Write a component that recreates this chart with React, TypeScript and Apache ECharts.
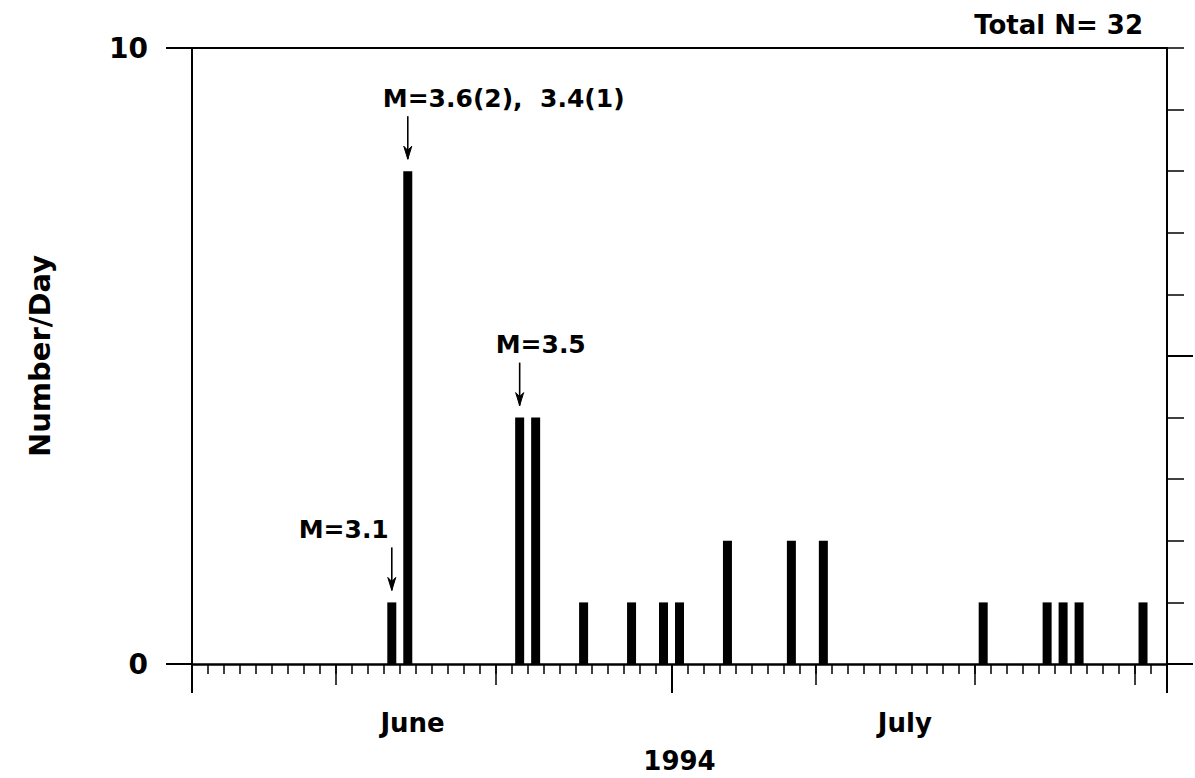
import React, { useEffect, useRef } from "react";
import * as echarts from "echarts";

// ---- data ----
const eventDates = ["06-13", "06-14", "06-21", "06-22", "06-25", "06-28", "06-30", "07-01", "07-04", "07-08", "07-10", "07-20", "07-24", "07-25", "07-26", "07-30"];
const eventCounts = [1, 8, 4, 4, 1, 1, 1, 1, 2, 2, 2, 1, 1, 1, 1, 1];

const annotationDates = ["06-14", "06-21", "06-13"];
const annotationTexts = ["M=3.6(2),  3.4(1)", "M=3.5", "M=3.1"];

const monthNames = ["June", "July"];
const monthLengths = [30, 31];
const yearLabel = "1994";
const yTickLabels = [0, 10];
const totalLabel = "Total N= 32";
const yTitle = "Number/Day";

// tick positions (day boundaries, 0 = start of June 1)
const tenDayTicks = [9, 19, 39, 49, 59];
const monthTicks = [0, 30, 61];
const monthLabelAt = [13.8, 44.6];

// ---- styling helpers ----
const annotationAlign = ["left", "left", "right"];
const annotationDx = [-25, -24, -3];

const FONT = "DejaVu Sans";
const totalDays = monthLengths.reduce((a, b) => a + b, 0);

function dayIndex(md: string): number {
  const [m, d] = md.split("-").map(Number);
  const monthIdx = m - 6;
  let off = 0;
  for (let i = 0; i < monthIdx; i++) off += monthLengths[i];
  return off + d - 1;
}

export default function App() {
  const ref = useRef<HTMLDivElement>(null);
  useEffect(() => {
    document.body.style.margin = "0";
    const chart = echarts.init(ref.current!, null, { renderer: "svg" });
    const barData = eventDates.map((d, i) => [dayIndex(d) + 0.5, eventCounts[i]]);
    const annData = annotationDates.map((d) => {
      const i = eventDates.indexOf(d);
      return [dayIndex(d) + 0.5, eventCounts[i]];
    });
    const baseX = {
      type: "value",
      min: 0,
      max: totalDays,
      interval: 1,
      splitLine: { show: false },
      gridIndex: 0,
    };
    const option: any = {
      animation: false,
      backgroundColor: "#fff",
      grid: { left: 192, right: 28, top: 48, bottom: 114, containLabel: false, outerBoundsMode: "none" },
      xAxis: [
        {
          ...baseX,
          position: "bottom",
          axisLine: { show: true, onZero: false, lineStyle: { color: "#000", width: 2.5 } },
          axisTick: { show: true, length: 10, lineStyle: { color: "#000", width: 1.5 } },
          axisLabel: { show: false },
        },
        {
          ...baseX,
          position: "bottom",
          axisLine: { show: false, onZero: false },
          axisTick: { show: true, length: 21, customValues: tenDayTicks, lineStyle: { color: "#000", width: 1.5 } },
          axisLabel: { show: false },
        },
        {
          ...baseX,
          position: "bottom",
          axisLine: { show: false, onZero: false },
          axisTick: { show: true, length: 29, customValues: monthTicks, lineStyle: { color: "#000", width: 2 } },
          axisLabel: {
            show: true,
            customValues: monthLabelAt,
            formatter: (v: number) => (v < monthLengths[0] ? monthNames[0] : monthNames[1]),
            margin: 46,
            color: "#000",
            fontFamily: FONT,
            fontWeight: "bold",
            fontSize: 26,
          },
          name: yearLabel,
          nameLocation: "middle",
          nameGap: 84,
          nameTextStyle: { color: "#000", fontFamily: FONT, fontWeight: "bold", fontSize: 26, lineHeight: 26 },
        },
        {
          ...baseX,
          position: "top",
          axisLine: { show: true, onZero: false, lineStyle: { color: "#000", width: 2 } },
          axisTick: { show: false },
          axisLabel: { show: false },
        },
      ],
      yAxis: [
        {
          type: "value",
          min: 0,
          max: 10,
          interval: 10,
          position: "left",
          splitLine: { show: false },
          axisLine: { show: true, onZero: false, lineStyle: { color: "#000", width: 2 } },
          axisTick: { show: true, length: 26, customValues: yTickLabels, lineStyle: { color: "#000", width: 2 } },
          axisLabel: {
            show: true,
            customValues: yTickLabels,
            margin: 44,
            color: "#000",
            fontFamily: FONT,
            fontWeight: "bold",
            fontSize: 28,
          },
          name: yTitle,
          nameLocation: "middle",
          nameRotate: 90,
          nameGap: 138,
          nameTextStyle: { color: "#000", fontFamily: FONT, fontWeight: "bold", fontSize: 29 },
        },
        {
          type: "value",
          min: 0,
          max: 10,
          interval: 1,
          position: "right",
          splitLine: { show: false },
          axisLine: { show: true, onZero: false, lineStyle: { color: "#000", width: 2 } },
          axisTick: { show: true, length: 17, lineStyle: { color: "#000", width: 1.5 } },
          axisLabel: { show: false },
        },
        {
          type: "value",
          min: 0,
          max: 10,
          interval: 1,
          position: "right",
          splitLine: { show: false },
          axisLine: { show: false, onZero: false },
          axisTick: { show: true, length: 26, customValues: [0, 5], lineStyle: { color: "#000", width: 2 } },
          axisLabel: { show: false },
        },
      ],
      graphic: [
        {
          type: "text",
          right: 52,
          top: 12,
          style: { text: totalLabel, fill: "#000", fontFamily: FONT, fontWeight: "bold", fontSize: 26 },
        },
      ],
      series: [
        {
          type: "bar",
          xAxisIndex: 0,
          yAxisIndex: 0,
          data: barData,
          barWidth: 9,
          itemStyle: { color: "#000" },
        },
        {
          type: "custom",
          xAxisIndex: 0,
          yAxisIndex: 0,
          data: annData,
          clip: false,
          renderItem: (params: any, api: any) => {
            const i = params.dataIndex;
            const p = api.coord([api.value(0), api.value(1)]);
            const x = p[0];
            const top = p[1];
            const tip = top - 12;
            const tail = top - 55;
            return {
              type: "group",
              children: [
                { type: "line", shape: { x1: x, y1: tail, x2: x, y2: tip }, style: { stroke: "#000", lineWidth: 1.6 } },
                {
                  type: "polygon",
                  shape: { points: [[x - 4, tip - 13], [x, tip], [x + 4, tip - 13], [x, tip - 9]] },
                  style: { fill: "#000", stroke: "#000", lineWidth: 1 },
                },
                {
                  type: "text",
                  style: {
                    text: annotationTexts[i],
                    x: x + annotationDx[i],
                    y: top - 73,
                    align: annotationAlign[i],
                    verticalAlign: "middle",
                    fill: "#000",
                    fontFamily: FONT,
                    fontWeight: "bold",
                    fontSize: 25,
                  },
                },
              ],
            };
          },
        },
      ],
    };
    chart.setOption(option);
    return () => chart.dispose();
  }, []);
  return <div ref={ref} style={{ width: 1195, height: 778 }} />;
}
